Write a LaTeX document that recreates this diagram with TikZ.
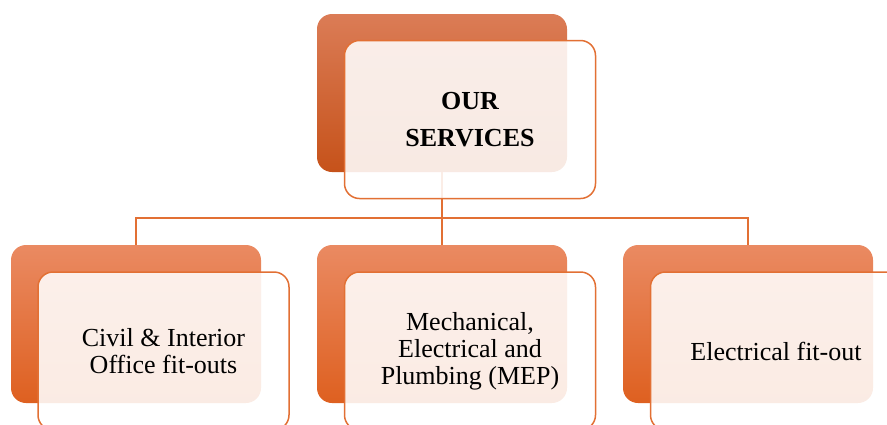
\documentclass[tikz,border=0pt]{standalone}
\usepackage{fontspec}
\setmainfont{Liberation Serif}
\usetikzlibrary{positioning}

\definecolor{rustTop}{RGB}{219,124,86}
\definecolor{rustMid}{RGB}{214,98,38}
\definecolor{rustBot}{RGB}{198,82,26}
\definecolor{orangeTop}{RGB}{234,138,98}
\definecolor{orangeMid}{RGB}{238,114,48}
\definecolor{orangeBot}{RGB}{222,96,32}
\definecolor{rimOrange}{RGB}{226,112,52}

\begin{document}
\begin{tikzpicture}[
        yscale=-1,
        x=1pt,
        y=1pt,
        backbox/.style={rounded corners=15pt, minimum width=250pt, minimum height=158pt, inner sep=0pt},
        toptone/.style={top color=rustTop, middle color=rustMid, bottom color=rustBot},
        childtone/.style={top color=orangeTop, middle color=orangeMid, bottom color=orangeBot},
        frontbox/.style={draw=rimOrange, line width=1.5pt, rounded corners=15pt, fill=white, fill opacity=0.88, text opacity=1, minimum width=251pt, minimum height=158pt, align=center, inner sep=0pt, font=\fontsize{26}{27}\selectfont},
        link/.style={draw=rimOrange, line width=1.5pt}
    ]
    \useasboundingbox (0,0) rectangle (887,424);
    \clip (0,0) rectangle (887,424);

    % back tiles
    \node[backbox, toptone] (top) at (442,93) {};
    \node[backbox, childtone] (civil) at (136,324) {};
    \node[backbox, childtone] (mep) at (442,324) {};
    \node[backbox, childtone] (elec) at (748,324) {};

    % tree lines
    \coordinate (bus) at (442,218);
    \draw[link] (top.south) -- (mep.north);
    \draw[link] (civil.north) |- (bus) -| (elec.north);

    % front tiles
    \node[frontbox, font=\bfseries\fontsize{26}{37}\selectfont] (topf) at (470,119.5) {OUR\\SERVICES};
    \node[frontbox] (civilf) at (163.5,351) {Civil \& Interior\\Office fit-outs};
    \node[frontbox] (mepf) at (470,351) {Mechanical,\\Electrical and\\Plumbing (MEP)};
    \node[frontbox] (elecf) at (776,351) {Electrical fit-out};
\end{tikzpicture}
\end{document}
